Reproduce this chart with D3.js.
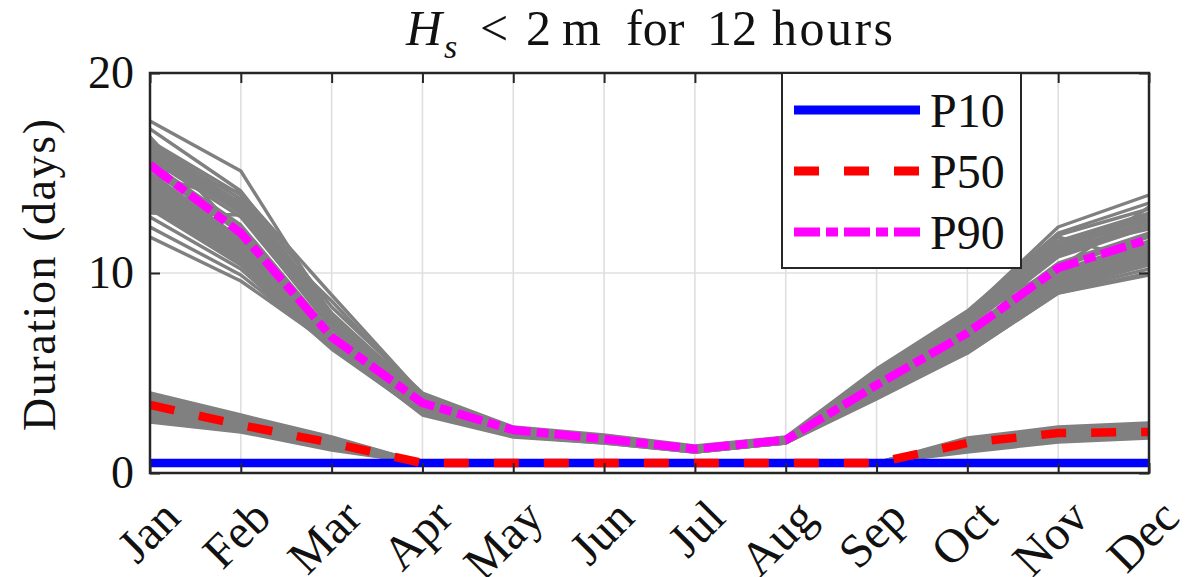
<!DOCTYPE html>
<html>
<head>
<meta charset="utf-8">
<script src="https://cdn.jsdelivr.net/npm/d3@7"></script>
<style>
  body { margin: 0; background: #fff; }
  svg { display: block; }
  text { font-family: "Liberation Serif", "Times New Roman", serif; }
</style>
</head>
<body>
<svg id="chart" width="1199" height="577"></svg>
<script>
// ---------------- data ----------------
const months = ["Jan","Feb","Mar","Apr","May","Jun","Jul","Aug","Sep","Oct","Nov","Dec"];
const yTicks = [0, 10, 20];

const seriesNames = ["P10", "P50", "P90"];
const p10 = [0.5, 0.5, 0.5, 0.5, 0.5, 0.5, 0.5, 0.5, 0.5, 0.5, 0.5, 0.5];
const p50 = [3.4, 2.4, 1.5, 0.5, 0.5, 0.5, 0.5, 0.5, 0.5, 1.5, 2.0, 2.05];
const p90 = [15.4, 12.0, 6.8, 3.5, 2.15, 1.7, 1.2, 1.65, 4.4, 7.0, 10.25, 11.7];

// individual simulation curves (grey), upper group
const greyUpper = [
  [17.6, 15.1, 7.9, 3.9, 2.25, 1.85, 1.3, 1.75, 5.1, 8.0, 12.3, 13.9],
  [17.2, 14.1, 8.3, 4.0, 2.3, 1.9, 1.35, 1.8, 5.2, 8.1, 12.0, 13.5],
  [16.6, 13.9, 8.0, 3.8, 2.2, 1.8, 1.3, 1.75, 4.9, 7.8, 11.6, 13.0],
  [16.45, 13.7, 7.8, 3.75, 2.2, 1.8, 1.28, 1.72, 4.85, 7.7, 11.45, 12.95],
  [16.3, 13.5, 7.7, 3.7, 2.2, 1.8, 1.25, 1.7, 4.8, 7.6, 11.3, 12.9],
  [16.15, 13.35, 7.6, 3.65, 2.17, 1.77, 1.25, 1.7, 4.75, 7.55, 11.15, 12.75],
  [16.0, 13.2, 7.5, 3.6, 2.15, 1.75, 1.25, 1.7, 4.7, 7.5, 11.0, 12.6],
  [15.85, 13.0, 7.4, 3.6, 2.12, 1.75, 1.22, 1.7, 4.65, 7.4, 10.9, 12.45],
  [15.7, 12.8, 7.3, 3.6, 2.1, 1.75, 1.2, 1.7, 4.6, 7.3, 10.8, 12.3],
  [15.5, 12.4, 7.0, 3.5, 2.1, 1.7, 1.2, 1.65, 4.5, 7.1, 10.5, 12.0],
  [15.35, 12.2, 6.95, 3.5, 2.1, 1.7, 1.2, 1.65, 4.45, 7.05, 10.4, 11.9],
  [15.2, 12.0, 6.9, 3.5, 2.1, 1.7, 1.2, 1.65, 4.4, 7.0, 10.3, 11.8],
  [15.0, 11.7, 6.7, 3.4, 2.05, 1.7, 1.15, 1.6, 4.3, 6.9, 10.1, 11.6],
  [14.85, 11.6, 6.65, 3.4, 2.05, 1.68, 1.17, 1.62, 4.3, 6.85, 10.05, 11.5],
  [14.7, 11.5, 6.6, 3.4, 2.05, 1.65, 1.15, 1.6, 4.3, 6.8, 10.0, 11.4],
  [14.55, 11.35, 6.55, 3.35, 2.02, 1.65, 1.15, 1.6, 4.25, 6.75, 9.9, 11.3],
  [14.4, 11.2, 6.5, 3.3, 2.0, 1.65, 1.15, 1.6, 4.2, 6.7, 9.8, 11.2],
  [14.25, 11.1, 6.45, 3.25, 2.0, 1.62, 1.12, 1.6, 4.15, 6.6, 9.7, 11.1],
  [14.1, 11.0, 6.4, 3.2, 2.0, 1.6, 1.1, 1.6, 4.1, 6.5, 9.6, 11.0],
  [13.95, 10.9, 6.4, 3.2, 1.97, 1.6, 1.1, 1.57, 4.05, 6.45, 9.55, 10.9],
  [13.8, 10.8, 6.4, 3.2, 1.95, 1.6, 1.1, 1.55, 4.0, 6.4, 9.5, 10.8],
  [13.65, 10.7, 6.35, 3.15, 1.92, 1.6, 1.1, 1.55, 3.95, 6.35, 9.4, 10.7],
  [13.5, 10.6, 6.3, 3.1, 1.9, 1.6, 1.1, 1.55, 3.9, 6.3, 9.3, 10.6],
  [13.35, 10.5, 6.3, 3.05, 1.9, 1.57, 1.07, 1.52, 3.9, 6.25, 9.25, 10.5],
  [13.2, 10.4, 6.3, 3.0, 1.9, 1.55, 1.05, 1.5, 3.9, 6.2, 9.2, 10.4],
  [12.8, 10.2, 6.2, 3.0, 1.85, 1.55, 1.05, 1.5, 3.8, 6.1, 9.1, 10.2],
  [12.3, 9.9, 6.3, 2.95, 1.85, 1.5, 1.05, 1.5, 3.8, 6.0, 9.0, 10.0],
  [11.8, 9.6, 6.4, 2.9, 1.8, 1.5, 1.05, 1.5, 3.7, 6.0, 9.0, 9.9],
  [13.0, 12.9, 7.2, 3.6, 2.1, 1.7, 1.2, 1.65, 4.5, 7.6, 11.8, 10.5],
  [16.8, 11.9, 6.8, 3.3, 2.0, 1.6, 1.15, 1.6, 4.8, 7.9, 10.2, 13.3],
  [14.9, 13.6, 7.6, 3.8, 2.2, 1.8, 1.3, 1.7, 4.0, 6.6, 11.4, 12.7],
  [15.9, 10.9, 6.9, 3.4, 2.0, 1.65, 1.2, 1.65, 4.6, 7.2, 9.4, 11.9],
  [15.6, 14.0, 8.9, 3.9, 2.25, 1.85, 1.3, 1.75, 5.0, 7.9, 11.9, 13.2],
  [16.2, 13.0, 8.6, 3.8, 2.2, 1.8, 1.25, 1.7, 4.9, 7.7, 11.2, 12.2]
];

// individual simulation curves (grey), lower group
const greyLower = [
  [4.0, 2.9, 1.8, 0.5, 0.5, 0.5, 0.5, 0.5, 0.5, 1.75, 2.3, 2.5],
  [3.9, 2.85, 1.75, 0.5, 0.5, 0.5, 0.5, 0.5, 0.5, 1.7, 2.25, 2.45],
  [3.8, 2.8, 1.7, 0.5, 0.5, 0.5, 0.5, 0.5, 0.5, 1.65, 2.2, 2.4],
  [3.7, 2.7, 1.65, 0.5, 0.5, 0.5, 0.5, 0.5, 0.5, 1.6, 2.15, 2.35],
  [3.6, 2.6, 1.6, 0.5, 0.5, 0.5, 0.5, 0.5, 0.5, 1.55, 2.1, 2.3],
  [3.5, 2.5, 1.55, 0.5, 0.5, 0.5, 0.5, 0.5, 0.5, 1.5, 2.05, 2.2],
  [3.4, 2.45, 1.5, 0.5, 0.5, 0.5, 0.5, 0.5, 0.5, 1.45, 2.0, 2.15],
  [3.3, 2.4, 1.48, 0.5, 0.5, 0.5, 0.5, 0.5, 0.5, 1.4, 1.95, 2.1],
  [3.2, 2.35, 1.45, 0.5, 0.5, 0.5, 0.5, 0.5, 0.5, 1.35, 1.9, 2.05],
  [3.1, 2.3, 1.4, 0.5, 0.5, 0.5, 0.5, 0.5, 0.5, 1.3, 1.85, 2.0],
  [3.0, 2.25, 1.35, 0.5, 0.5, 0.5, 0.5, 0.5, 0.5, 1.25, 1.8, 1.95],
  [2.9, 2.2, 1.3, 0.5, 0.5, 0.5, 0.5, 0.5, 0.5, 1.2, 1.72, 1.9],
  [2.8, 2.15, 1.25, 0.5, 0.5, 0.5, 0.5, 0.5, 0.5, 1.15, 1.65, 1.85],
  [2.68, 2.1, 1.2, 0.5, 0.5, 0.5, 0.5, 0.5, 0.5, 1.1, 1.6, 1.8],
  [2.55, 2.05, 1.15, 0.5, 0.5, 0.5, 0.5, 0.5, 0.5, 1.05, 1.55, 1.75]
];

// ---------------- layout ----------------
const svg = d3.select("#chart");
const plot = { left: 150, right: 1149, top: 73, bottom: 473 };
const axisColor = "#262626";
const gridColor = "#dfdfdf";

const x = d3.scalePoint().domain(months).range([plot.left, plot.right]);
const y = d3.scaleLinear().domain([0, 20]).range([plot.bottom, plot.top]);

svg.append("defs").append("clipPath").attr("id", "clip")
  .append("rect").attr("x", plot.left).attr("y", plot.top)
  .attr("width", plot.right - plot.left).attr("height", plot.bottom - plot.top);

// grid
const grid = svg.append("g");
grid.selectAll("line.v").data(months).join("line")
  .attr("class", "v")
  .attr("x1", d => x(d)).attr("x2", d => x(d))
  .attr("y1", plot.top).attr("y2", plot.bottom)
  .attr("stroke", gridColor).attr("stroke-width", 1.6);
grid.selectAll("line.h").data(yTicks).join("line")
  .attr("class", "h")
  .attr("x1", plot.left).attr("x2", plot.right)
  .attr("y1", d => y(d)).attr("y2", d => y(d))
  .attr("stroke", gridColor).attr("stroke-width", 1.6);

const line = d3.line().x((d, i) => x(months[i])).y(d => y(d));

const marks = svg.append("g").attr("clip-path", "url(#clip)");
marks.selectAll("path.gu").data(greyUpper).join("path")
  .attr("class", "gu").attr("d", line)
  .attr("fill", "none").attr("stroke", "#808080").attr("stroke-width", 3.4)
  .attr("stroke-linejoin", "round");
marks.selectAll("path.gl").data(greyLower).join("path")
  .attr("class", "gl").attr("d", line)
  .attr("fill", "none").attr("stroke", "#808080").attr("stroke-width", 3.4)
  .attr("stroke-linejoin", "round");

const styles = [
  { color: "#0000ff", dash: null },
  { color: "#ff0000", dash: "25,25" },
  { color: "#ff00ff", dash: "26,6,12,6" }
];
const pSeries = [p10, p50, p90];
marks.selectAll("path.p").data(pSeries).join("path")
  .attr("class", "p").attr("d", line)
  .attr("fill", "none")
  .attr("stroke", (d, i) => styles[i].color)
  .attr("stroke-width", 8.5)
  .attr("stroke-dasharray", (d, i) => styles[i].dash)
  .attr("stroke-linejoin", "round");

// axes
function styleAxis(g) {
  g.select(".domain").remove();
  g.selectAll(".tick line").attr("stroke", axisColor).attr("stroke-width", 2);
  g.selectAll(".tick text").attr("fill", "#111").attr("font-size", 46)
    .attr("font-family", "Liberation Serif, serif");
}

const gx = svg.append("g").attr("transform", `translate(0,${plot.bottom})`)
  .call(d3.axisBottom(x).tickSize(-10).tickSizeOuter(0).tickPadding(0))
  .call(styleAxis);
gx.selectAll(".tick text")
  .attr("y", 0).attr("dy", null)
  .attr("font-size", 48)
  .attr("text-anchor", "end")
  .attr("transform", "translate(32,47) rotate(-45)");

svg.append("g").attr("transform", `translate(0,${plot.top})`)
  .call(d3.axisTop(x).tickSize(-10).tickSizeOuter(0).tickFormat(""))
  .call(styleAxis);

svg.append("g").attr("transform", `translate(${plot.left},0)`)
  .call(d3.axisLeft(y).tickValues(yTicks).tickSize(-10).tickSizeOuter(0).tickPadding(16))
  .call(styleAxis);

svg.append("g").attr("transform", `translate(${plot.right},0)`)
  .call(d3.axisRight(y).tickValues(yTicks).tickSize(-10).tickSizeOuter(0).tickFormat(""))
  .call(styleAxis);

svg.append("rect")
  .attr("x", plot.left).attr("y", plot.top)
  .attr("width", plot.right - plot.left).attr("height", plot.bottom - plot.top)
  .attr("fill", "none").attr("stroke", axisColor).attr("stroke-width", 2.5);

// y label
svg.append("text")
  .attr("transform", "translate(55,275) rotate(-90)")
  .attr("text-anchor", "middle")
  .attr("font-size", 46)
  .attr("fill", "#111")
  .attr("textLength", 312).attr("lengthAdjust", "spacing")
  .text("Duration (days)");

// title
const title = svg.append("text").attr("y", 45).attr("font-size", 50).attr("fill", "#111");
title.append("tspan").attr("x", 406).attr("font-style", "italic").text("H");
title.append("tspan").attr("x", 444).attr("dy", 13).attr("font-size", 34).attr("font-style", "italic").text("s");
title.append("tspan").attr("x", 480).attr("dy", -13).text("<");
title.append("tspan").attr("x", 526).text("2");
title.append("tspan").attr("x", 562).text("m");
title.append("tspan").attr("x", 626).text("for");
title.append("tspan").attr("x", 707).text("12");
title.append("tspan").attr("x", 772).attr("textLength", 121).text("hours");

// legend
const legend = svg.append("g");
legend.append("rect")
  .attr("x", 782).attr("y", 73).attr("width", 239).attr("height", 195)
  .attr("fill", "#fff").attr("stroke", axisColor).attr("stroke-width", 2);
const rowY = [110, 171, 232];
const items = legend.selectAll("g.item").data(seriesNames).join("g").attr("class", "item");
items.append("line")
  .attr("x1", 794).attr("x2", 920)
  .attr("y1", (d, i) => rowY[i]).attr("y2", (d, i) => rowY[i])
  .attr("stroke", (d, i) => styles[i].color)
  .attr("stroke-width", 9)
  .attr("stroke-dasharray", (d, i) => styles[i].dash);
items.append("text")
  .attr("x", 930).attr("y", (d, i) => rowY[i] + 17)
  .attr("font-size", 48).attr("fill", "#111")
  .text(d => d);
</script>
</body>
</html>
